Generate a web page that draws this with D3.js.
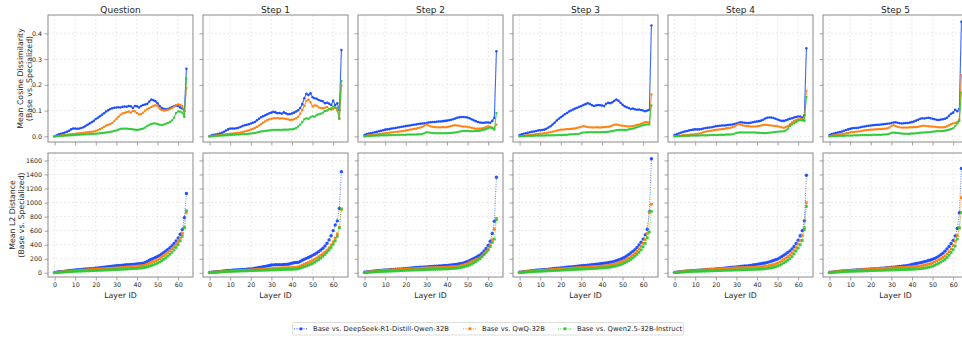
<!DOCTYPE html>
<html><head><meta charset="utf-8">
<script src="https://cdn.jsdelivr.net/npm/d3@7/dist/d3.min.js"></script>
<style>body{margin:0;background:#fff} svg{display:block;font-family:"DejaVu Sans",sans-serif}</style>
</head><body><svg id="c" width="962" height="338"></svg>
<script>
const panelTitles = ["Question","Step 1","Step 2","Step 3","Step 4","Step 5"];
const seriesNames = ["Base vs. DeepSeek-R1-Distill-Qwen-32B","Base vs. QwQ-32B","Base vs. Qwen2.5-32B-Instruct"];
const seriesColors = ["#1a4bff","#ff7f0e","#2dc937"];
const layers = d3.range(65);
const xTicks = [0,10,20,30,40,50,60];
const cosTicks = [0,0.1,0.2,0.3,0.4];
const l2Ticks = [0,200,400,600,800,1000,1200,1400,1600];

// ---- Mean cosine dissimilarity (top row) ----
const cos_q_r1 = [0,0.004,0.008,0.010,0.012,0.015,0.018,0.022,0.027,0.030,0.030,0.029,0.030,0.032,0.035,0.040,0.045,0.050,0.055,0.060,0.067,0.072,0.078,0.084,0.090,0.096,0.101,0.106,0.109,0.111,0.112,0.113,0.112,0.115,0.116,0.115,0.118,0.117,0.110,0.118,0.117,0.112,0.118,0.122,0.124,0.126,0.135,0.143,0.140,0.136,0.128,0.118,0.110,0.107,0.105,0.106,0.110,0.114,0.118,0.120,0.118,0.112,0.108,0.098,0.262];
const cos_q_qwq = [0,0.001,0.002,0.003,0.004,0.005,0.006,0.007,0.008,0.009,0.010,0.011,0.012,0.013,0.014,0.015,0.016,0.017,0.018,0.019,0.021,0.024,0.028,0.032,0.037,0.042,0.045,0.048,0.052,0.060,0.068,0.076,0.084,0.089,0.091,0.094,0.096,0.092,0.099,0.097,0.090,0.085,0.087,0.092,0.100,0.105,0.110,0.114,0.118,0.121,0.118,0.108,0.102,0.100,0.101,0.103,0.106,0.110,0.116,0.121,0.124,0.122,0.118,0.085,0.188];
const cos_q_inst = [0,0.001,0.001,0.002,0.002,0.003,0.003,0.004,0.004,0.005,0.005,0.006,0.006,0.007,0.007,0.008,0.008,0.009,0.009,0.010,0.010,0.011,0.012,0.013,0.014,0.015,0.016,0.017,0.019,0.021,0.023,0.026,0.029,0.030,0.030,0.030,0.029,0.028,0.027,0.026,0.025,0.026,0.028,0.030,0.034,0.040,0.045,0.048,0.050,0.050,0.048,0.045,0.044,0.046,0.049,0.052,0.056,0.062,0.072,0.090,0.097,0.096,0.092,0.075,0.225];

const cos_s1_r1 = [0,0.004,0.006,0.007,0.009,0.011,0.014,0.018,0.023,0.027,0.030,0.030,0.030,0.031,0.033,0.036,0.040,0.043,0.045,0.047,0.050,0.053,0.056,0.062,0.068,0.074,0.078,0.082,0.086,0.090,0.092,0.095,0.093,0.090,0.091,0.088,0.093,0.090,0.086,0.087,0.089,0.092,0.096,0.101,0.110,0.125,0.148,0.165,0.160,0.167,0.152,0.148,0.146,0.141,0.138,0.136,0.128,0.130,0.127,0.122,0.138,0.122,0.128,0.102,0.335];
const cos_s1_qwq = [0,0.001,0.002,0.003,0.004,0.005,0.006,0.007,0.008,0.009,0.010,0.011,0.012,0.013,0.014,0.015,0.017,0.019,0.021,0.023,0.026,0.029,0.033,0.037,0.042,0.047,0.053,0.058,0.063,0.066,0.068,0.070,0.070,0.071,0.069,0.070,0.069,0.068,0.066,0.064,0.065,0.066,0.070,0.076,0.088,0.102,0.118,0.138,0.143,0.132,0.116,0.120,0.119,0.112,0.110,0.109,0.111,0.114,0.106,0.104,0.106,0.112,0.100,0.070,0.196];
const cos_s1_inst = [0,0.001,0.001,0.002,0.002,0.003,0.003,0.004,0.004,0.005,0.005,0.006,0.006,0.007,0.007,0.008,0.008,0.009,0.009,0.010,0.011,0.012,0.013,0.015,0.017,0.019,0.020,0.021,0.022,0.023,0.024,0.025,0.025,0.025,0.025,0.025,0.026,0.026,0.026,0.027,0.027,0.029,0.032,0.038,0.046,0.056,0.066,0.070,0.068,0.074,0.078,0.076,0.082,0.086,0.088,0.092,0.098,0.100,0.105,0.108,0.116,0.112,0.110,0.068,0.215];

const cos_s2_r1 = [0.005,0.009,0.011,0.012,0.014,0.016,0.018,0.020,0.022,0.024,0.026,0.027,0.028,0.030,0.031,0.032,0.034,0.035,0.037,0.038,0.040,0.041,0.042,0.044,0.045,0.046,0.048,0.049,0.050,0.051,0.052,0.054,0.055,0.056,0.056,0.057,0.058,0.058,0.059,0.060,0.061,0.062,0.064,0.066,0.069,0.072,0.074,0.075,0.075,0.074,0.073,0.070,0.066,0.062,0.059,0.056,0.054,0.053,0.053,0.054,0.054,0.053,0.060,0.072,0.330];
const cos_s2_qwq = [0,0.002,0.004,0.005,0.006,0.007,0.008,0.009,0.010,0.011,0.012,0.013,0.014,0.015,0.016,0.017,0.018,0.019,0.020,0.021,0.023,0.024,0.026,0.027,0.029,0.030,0.032,0.034,0.037,0.042,0.046,0.042,0.039,0.037,0.036,0.035,0.035,0.035,0.036,0.035,0.036,0.038,0.040,0.042,0.043,0.042,0.041,0.039,0.038,0.038,0.037,0.035,0.033,0.031,0.030,0.030,0.030,0.031,0.033,0.036,0.039,0.037,0.034,0.030,0.046];
const cos_s2_inst = [0,0.001,0.001,0.002,0.002,0.003,0.003,0.003,0.004,0.004,0.004,0.004,0.005,0.005,0.005,0.005,0.006,0.006,0.006,0.006,0.006,0.007,0.007,0.007,0.007,0.007,0.008,0.008,0.009,0.012,0.016,0.015,0.014,0.013,0.012,0.012,0.012,0.012,0.012,0.012,0.012,0.013,0.013,0.014,0.015,0.016,0.018,0.020,0.021,0.021,0.021,0.020,0.020,0.020,0.021,0.021,0.022,0.024,0.026,0.028,0.031,0.034,0.031,0.026,0.090];

const cos_s3_r1 = [0.005,0.008,0.010,0.012,0.014,0.016,0.018,0.019,0.021,0.023,0.024,0.025,0.026,0.029,0.034,0.039,0.046,0.053,0.061,0.068,0.074,0.080,0.086,0.091,0.096,0.100,0.104,0.108,0.111,0.115,0.118,0.122,0.125,0.128,0.126,0.122,0.118,0.120,0.122,0.121,0.120,0.118,0.126,0.130,0.128,0.132,0.138,0.143,0.138,0.130,0.123,0.117,0.113,0.110,0.106,0.108,0.105,0.103,0.104,0.102,0.100,0.097,0.100,0.102,0.430];
const cos_s3_qwq = [0,0.001,0.002,0.003,0.004,0.005,0.006,0.007,0.008,0.009,0.010,0.011,0.012,0.013,0.015,0.016,0.018,0.020,0.022,0.024,0.026,0.026,0.027,0.028,0.028,0.029,0.030,0.031,0.033,0.035,0.037,0.040,0.038,0.036,0.035,0.035,0.034,0.035,0.035,0.034,0.035,0.036,0.036,0.037,0.039,0.042,0.045,0.046,0.044,0.042,0.041,0.040,0.039,0.038,0.039,0.040,0.042,0.044,0.046,0.049,0.052,0.055,0.055,0.054,0.163];
const cos_s3_inst = [0,0.001,0.001,0.001,0.002,0.002,0.002,0.002,0.003,0.003,0.003,0.003,0.003,0.004,0.004,0.004,0.004,0.004,0.005,0.005,0.005,0.005,0.006,0.006,0.007,0.008,0.008,0.009,0.009,0.010,0.013,0.015,0.015,0.016,0.016,0.016,0.016,0.016,0.016,0.016,0.016,0.017,0.017,0.018,0.019,0.020,0.022,0.024,0.025,0.025,0.025,0.025,0.025,0.027,0.029,0.030,0.033,0.035,0.038,0.041,0.043,0.045,0.046,0.046,0.120];

const cos_s4_r1 = [0.005,0.008,0.011,0.014,0.017,0.019,0.021,0.023,0.025,0.026,0.027,0.027,0.027,0.028,0.030,0.032,0.033,0.034,0.035,0.037,0.039,0.040,0.041,0.042,0.042,0.043,0.044,0.045,0.046,0.048,0.050,0.053,0.055,0.054,0.053,0.052,0.052,0.053,0.055,0.057,0.058,0.059,0.061,0.064,0.069,0.072,0.073,0.073,0.071,0.068,0.065,0.062,0.060,0.060,0.062,0.065,0.068,0.070,0.073,0.075,0.077,0.077,0.072,0.082,0.342];
const cos_s4_qwq = [0,0.001,0.002,0.003,0.004,0.005,0.005,0.006,0.007,0.007,0.008,0.009,0.011,0.013,0.016,0.018,0.020,0.021,0.022,0.024,0.025,0.026,0.027,0.028,0.029,0.031,0.032,0.033,0.035,0.038,0.043,0.048,0.046,0.043,0.041,0.040,0.039,0.038,0.038,0.038,0.039,0.040,0.042,0.044,0.045,0.044,0.043,0.042,0.041,0.040,0.039,0.037,0.035,0.033,0.036,0.040,0.047,0.054,0.060,0.063,0.066,0.069,0.066,0.064,0.177];
const cos_s4_inst = [0,0.001,0.001,0.001,0.002,0.002,0.002,0.002,0.003,0.003,0.003,0.003,0.003,0.004,0.004,0.004,0.004,0.005,0.005,0.005,0.005,0.005,0.006,0.006,0.006,0.007,0.007,0.007,0.008,0.010,0.013,0.015,0.015,0.015,0.015,0.015,0.015,0.015,0.015,0.015,0.014,0.014,0.013,0.013,0.012,0.013,0.014,0.015,0.016,0.017,0.018,0.019,0.019,0.020,0.023,0.030,0.040,0.046,0.051,0.056,0.061,0.063,0.062,0.060,0.153];

const cos_s5_r1 = [0.005,0.009,0.011,0.013,0.015,0.017,0.019,0.022,0.025,0.027,0.029,0.031,0.032,0.032,0.033,0.035,0.037,0.038,0.040,0.041,0.042,0.043,0.044,0.045,0.045,0.046,0.047,0.048,0.049,0.050,0.052,0.054,0.055,0.053,0.051,0.050,0.051,0.052,0.052,0.054,0.056,0.058,0.061,0.064,0.068,0.070,0.069,0.071,0.072,0.070,0.068,0.066,0.064,0.063,0.065,0.066,0.068,0.072,0.080,0.088,0.092,0.103,0.097,0.106,0.445];
const cos_s5_qwq = [0,0.002,0.004,0.005,0.007,0.008,0.009,0.010,0.012,0.013,0.015,0.016,0.017,0.018,0.019,0.020,0.022,0.023,0.024,0.025,0.026,0.026,0.027,0.027,0.028,0.028,0.029,0.030,0.031,0.034,0.040,0.044,0.040,0.037,0.035,0.034,0.034,0.034,0.034,0.035,0.035,0.036,0.036,0.037,0.039,0.041,0.041,0.040,0.039,0.038,0.038,0.037,0.036,0.035,0.035,0.035,0.036,0.039,0.043,0.047,0.050,0.052,0.056,0.066,0.238];
const cos_s5_inst = [0,0.001,0.001,0.001,0.002,0.002,0.002,0.002,0.003,0.003,0.003,0.003,0.004,0.004,0.004,0.005,0.005,0.005,0.005,0.005,0.005,0.006,0.006,0.006,0.006,0.006,0.007,0.007,0.008,0.010,0.013,0.015,0.014,0.013,0.012,0.011,0.010,0.010,0.010,0.010,0.011,0.011,0.012,0.013,0.014,0.015,0.015,0.016,0.016,0.017,0.018,0.019,0.020,0.020,0.020,0.021,0.022,0.024,0.026,0.028,0.031,0.040,0.050,0.060,0.170];

// ---- Mean L2 distance (bottom row) ----
const l2_q_r1 = [5,10,14,17,20,23,27,30,33,37,40,43,45,48,50,53,55,58,60,62,65,68,71,75,78,82,86,90,94,97,100,103,106,109,112,114,116,118,120,123,126,129,132,136,148,162,178,194,206,218,232,248,268,290,312,334,358,386,418,452,495,548,615,785,1130];
const l2_q_qwq = [3,6,9,12,14,16,18,21,24,27,30,32,34,36,38,40,42,44,46,48,50,52,54,56,58,60,62,64,66,68,70,72,74,76,78,80,83,86,88,91,94,97,99,102,112,124,136,148,160,172,185,202,222,244,266,290,315,342,372,405,445,495,560,650,860];
const l2_q_inst = [2,4,6,8,9,11,13,15,17,19,21,22,23,24,26,27,28,29,30,31,33,34,35,36,38,39,40,42,43,44,46,47,49,50,52,53,55,57,59,61,63,65,67,70,76,84,93,103,114,126,138,154,172,192,214,238,264,292,324,360,402,455,520,640,885];

const l2_s1_r1 = [5,9,12,15,18,20,23,26,29,32,35,37,39,41,43,45,47,49,51,53,55,60,65,70,75,80,86,92,98,104,110,113,115,116,116,117,118,120,122,128,135,142,147,148,162,178,192,206,218,232,248,264,282,302,324,350,382,420,468,528,600,680,740,915,1440];
const l2_s1_qwq = [3,6,9,11,13,15,17,19,21,23,25,27,29,30,32,33,35,36,37,39,40,42,44,46,48,50,52,54,56,58,60,62,64,66,68,70,71,72,73,74,76,78,80,84,96,110,122,134,148,162,176,192,210,230,250,272,296,322,355,395,442,495,555,650,905];
const l2_s1_inst = [2,4,6,8,9,11,13,15,17,19,20,21,22,23,24,25,26,27,28,29,30,31,32,33,34,35,36,37,38,39,40,41,42,43,44,45,46,47,48,49,50,51,53,56,66,76,86,96,108,120,133,150,168,188,210,234,260,290,322,360,405,455,520,640,910];

const l2_s2_r1 = [8,12,16,20,23,26,29,32,35,38,40,42,44,46,48,50,52,54,56,58,60,63,66,69,72,75,77,79,81,83,85,87,89,91,93,95,97,99,101,103,106,109,112,115,118,122,128,134,140,150,160,175,190,205,220,235,250,278,310,345,388,450,560,735,1360];
const l2_s2_qwq = [4,8,12,15,18,21,24,27,30,32,35,37,39,41,42,44,45,46,48,49,50,52,54,56,58,60,62,64,66,68,70,71,72,73,74,75,76,77,78,79,80,82,84,86,88,90,96,103,110,120,130,145,160,172,185,198,212,240,270,302,340,400,470,620,775];
const l2_s2_inst = [2,5,7,9,11,13,15,17,18,19,20,22,23,24,26,27,28,30,31,33,35,36,37,38,39,40,41,42,43,44,45,46,47,48,49,50,51,52,53,54,55,57,59,61,63,66,71,76,82,91,100,112,125,141,160,180,200,228,258,290,322,372,432,480,755];

const l2_s3_r1 = [8,12,16,20,24,27,30,33,36,39,42,44,47,49,52,55,58,61,64,67,70,73,76,79,82,85,88,91,94,97,100,103,106,109,112,115,118,121,124,128,132,136,140,145,150,156,163,172,182,194,207,222,240,260,282,305,330,360,395,435,480,540,620,870,1625];
const l2_s3_qwq = [4,8,12,15,18,21,24,27,30,32,35,37,39,41,43,45,47,49,51,53,55,57,59,61,63,65,67,69,71,73,75,77,79,81,83,85,87,89,91,93,95,98,101,105,110,116,123,131,140,151,163,177,193,211,231,253,277,305,337,375,420,475,560,860,975];
const l2_s3_inst = [2,5,7,9,11,13,15,17,19,20,22,23,25,26,28,29,31,32,34,35,37,38,40,41,43,44,46,47,49,50,52,53,55,56,58,59,61,62,64,66,68,70,73,76,80,85,91,98,106,116,127,140,155,172,191,212,236,262,292,327,368,420,500,580,875];

const l2_s4_r1 = [6,10,13,16,19,22,25,27,29,32,34,36,38,40,42,44,46,48,50,52,54,57,60,63,66,69,72,75,78,81,84,87,90,93,96,99,102,106,110,114,120,125,130,135,140,148,156,165,175,185,195,212,230,250,270,290,312,340,375,418,465,528,600,740,1390];
const l2_s4_qwq = [4,8,11,14,17,20,23,26,28,30,32,34,36,38,40,42,44,46,48,50,52,54,56,58,59,61,63,65,67,69,71,72,73,74,75,76,77,78,79,80,82,84,86,88,92,97,103,110,117,126,136,152,170,190,210,230,252,280,318,360,410,460,530,640,1000];
const l2_s4_inst = [2,5,7,9,11,12,14,16,17,19,20,21,22,23,24,25,26,27,28,29,30,31,32,33,34,35,36,37,38,39,40,41,42,43,44,45,46,47,48,49,50,51,53,55,57,61,66,72,78,86,95,108,124,142,160,180,202,230,268,310,352,400,460,615,945];

const l2_s5_r1 = [6,10,13,16,19,22,25,27,29,32,34,36,38,40,42,44,46,48,50,52,54,56,58,60,62,64,66,68,71,74,78,81,84,87,90,93,96,100,105,110,118,125,132,138,144,150,158,166,175,183,192,205,220,238,258,280,308,340,375,418,462,525,630,855,1485];
const l2_s5_qwq = [4,8,11,14,17,20,23,26,28,30,32,34,36,38,40,42,44,46,48,50,52,54,56,58,59,61,63,65,67,69,71,72,73,74,75,76,78,80,82,84,86,88,91,94,97,101,108,115,122,131,141,155,170,186,202,220,240,268,300,340,388,450,530,640,1070];
const l2_s5_inst = [2,5,7,9,11,12,14,16,17,19,20,21,22,23,24,25,26,27,28,29,30,31,32,33,34,35,36,37,38,39,40,41,42,43,44,45,46,47,48,49,50,52,54,56,58,61,66,71,77,85,94,106,120,135,152,170,190,218,250,288,330,380,480,640,860];

const cosPanels = [
  [cos_q_r1, cos_q_qwq, cos_q_inst],
  [cos_s1_r1, cos_s1_qwq, cos_s1_inst],
  [cos_s2_r1, cos_s2_qwq, cos_s2_inst],
  [cos_s3_r1, cos_s3_qwq, cos_s3_inst],
  [cos_s4_r1, cos_s4_qwq, cos_s4_inst],
  [cos_s5_r1, cos_s5_qwq, cos_s5_inst]
];
const l2Panels = [
  [l2_q_r1, l2_q_qwq, l2_q_inst],
  [l2_s1_r1, l2_s1_qwq, l2_s1_inst],
  [l2_s2_r1, l2_s2_qwq, l2_s2_inst],
  [l2_s3_r1, l2_s3_qwq, l2_s3_inst],
  [l2_s4_r1, l2_s4_qwq, l2_s4_inst],
  [l2_s5_r1, l2_s5_qwq, l2_s5_inst]
];

const svg = d3.select("#c");
const W = 145, colStep = 155, left0 = 48;
const rows = [
  {top: 15, bottom: 142, domain: [-0.022, 0.471], ticks: cosTicks, fmt: d3.format(".1f"), data: cosPanels, solid: true,
   label: ["Mean Cosine Dissimilarity", "(Base vs. Specialized)"], labelX: [20, 29]},
  {top: 153, bottom: 277, domain: [-60, 1706], ticks: l2Ticks, fmt: d3.format("d"), data: l2Panels, solid: false,
   label: ["Mean L2 Distance", "(Base vs. Specialized)"], labelX: [12, 21.5]}
];
const symbols = [d3.symbolCircle, d3.symbolSquare, d3.symbolSquare];
const frameColor = "#8a8a8a", textColor = "#262626";

rows.forEach((row, ri) => {
  panelTitles.forEach((title, ci) => {
    const x0 = left0 + ci * colStep;
    const x = d3.scaleLinear().domain([-3.2, 67.2]).range([x0, x0 + W]);
    const y = d3.scaleLinear().domain(row.domain).range([row.bottom, row.top]);
    const g = svg.append("g");
    // clip
    const cid = `clip${ri}_${ci}`;
    g.append("clipPath").attr("id", cid).append("rect")
      .attr("x", x0).attr("y", row.top).attr("width", W).attr("height", row.bottom - row.top);
    // grid
    const grid = g.append("g").attr("stroke", "#dcdcdc").attr("stroke-width", 0.6).attr("stroke-dasharray", "2,2");
    grid.selectAll("line.vx").data(xTicks).join("line")
      .attr("x1", d => x(d)).attr("x2", d => x(d)).attr("y1", row.top).attr("y2", row.bottom);
    grid.selectAll("line.hy").data(row.ticks).join("line")
      .attr("x1", x0).attr("x2", x0 + W).attr("y1", d => y(d)).attr("y2", d => y(d));
    // axes
    const ax = g.append("g").attr("transform", `translate(0,${row.bottom})`)
      .call(d3.axisBottom(x).tickValues(xTicks).tickSize(3.5).tickPadding(2)
        .tickFormat(ri === 1 ? d3.format("d") : () => ""));
    const ay = g.append("g").attr("transform", `translate(${x0},0)`)
      .call(d3.axisLeft(y).tickValues(row.ticks).tickSize(3.5).tickPadding(2.5)
        .tickFormat(ci === 0 ? row.fmt : () => ""));
    [ax, ay].forEach(a => {
      a.select(".domain").remove();
      a.selectAll(".tick line").attr("stroke", frameColor).attr("stroke-width", 0.8);
      a.selectAll(".tick text").attr("fill", textColor).style("font-size", "6.3px").style("font-family", "DejaVu Sans");
    });
    // series
    const plot = g.append("g").attr("clip-path", `url(#${cid})`);
    row.data[ci].forEach((vals, si) => {
      const line = d3.line().x((d, i) => x(layers[i])).y(d => y(d));
      plot.append("path").datum(vals).attr("d", line)
        .attr("fill", "none").attr("stroke", seriesColors[si])
        .attr("stroke-width", row.solid ? 1.1 : 0.9)
        .attr("stroke-opacity", row.solid ? 0.85 : 0.8)
        .attr("stroke-dasharray", row.solid ? null : "1,1.4");
      const sym = d3.symbol().type(symbols[si]).size(row.solid ? (si === 0 ? 5 : 4.5) : (si === 0 ? 9 : 7.5));
      plot.append("g").selectAll("path").data(vals).join("path")
        .attr("d", sym)
        .attr("transform", (d, i) => `translate(${x(layers[i])},${y(d)})`)
        .attr("fill", seriesColors[si]).attr("fill-opacity", 0.95);
    });
    // frame
    g.append("rect").attr("x", x0).attr("y", row.top).attr("width", W).attr("height", row.bottom - row.top)
      .attr("fill", "none").attr("stroke", frameColor).attr("stroke-width", 1);
    // titles
    if (ri === 0) {
      svg.append("text").attr("x", x0 + W / 2).attr("y", 13).attr("text-anchor", "middle")
        .attr("fill", textColor).style("font-size", "9px").text(title);
    } else {
      svg.append("text").attr("x", x0 + W / 2).attr("y", 298).attr("text-anchor", "middle")
        .attr("fill", textColor).style("font-size", "7.8px").text("Layer ID");
    }
  });
  // y labels
  const cy = (row.top + row.bottom) / 2;
  row.label.forEach((t, k) => {
    svg.append("text").attr("transform", `translate(${row.labelX[k]},${cy}) rotate(-90)`)
      .attr("text-anchor", "middle").attr("dy", "0.35em")
      .attr("fill", textColor).style("font-size", "7.8px").text(t);
  });
});

// legend
const leg = svg.append("g");
leg.append("rect").attr("x", 292.5).attr("y", 322.5).attr("width", 391).attr("height", 12.5)
  .attr("rx", 2).attr("fill", "#fff").attr("stroke", "#d6d6d6").attr("stroke-width", 0.8);
const textX = [313, 482, 577];
seriesNames.forEach((name, si) => {
  const tx = textX[si];
  const ly = 328.8;
  leg.append("line").attr("x1", tx - 19).attr("x2", tx - 5).attr("y1", ly).attr("y2", ly)
    .attr("stroke", seriesColors[si]).attr("stroke-width", 0.9).attr("stroke-dasharray", "1,1.4");
  leg.append("path").attr("d", d3.symbol().type(symbols[si]).size(8)())
    .attr("transform", `translate(${tx - 12},${ly})`).attr("fill", seriesColors[si]);
  leg.append("text").attr("x", tx).attr("y", ly).attr("dy", "0.35em")
    .attr("fill", textColor).style("font-size", "6.8px").text(name);
});
</script></body></html>
